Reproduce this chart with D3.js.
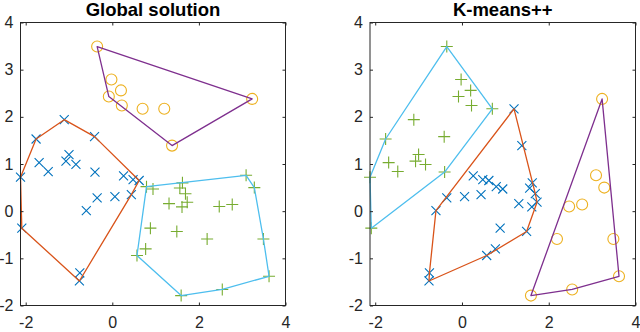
<!DOCTYPE html>
<html>
<head>
<meta charset="utf-8">
<script src="https://cdn.jsdelivr.net/npm/d3@7"></script>
<style>
  body { margin: 0; background: #fff; }
  svg { display: block; }
</style>
</head>
<body>
<svg id="chart" width="640" height="332"></svg>
<script>
// point coordinates (same 50 points in both panels)
const xs = [-0.35, -0.02, 0.20, -0.08, 0.22, 0.70, 1.20, 1.38, 3.23,
  -1.76, -1.11, -0.41, -1.69, -1.00, -1.07, -0.84, -2.12, -1.48, -0.40,
  0.26, 0.48, 0.62, -0.35, 0.06, 0.44, -0.60, -2.09, -0.75, -0.76,
  3.09, 3.28, 0.79, 0.94, 1.62, 1.56, 1.69, 1.31, 1.61, 1.73,
  2.47, 2.77, 0.88, 1.49, 2.19, 3.49, 0.77, 0.57, 3.62, 2.54, 1.59];
const ys = [3.49, 2.79, 2.56, 2.43, 2.24, 2.17, 2.17, 1.39, 2.38,
  1.53, 1.94, 1.58, 1.03, 1.20, 1.06, 0.99, 0.72, 0.84, 0.83,
  0.75, 0.67, 0.65, 0.28, 0.31, 0.35, 0.01, -0.36, -1.31, -1.48,
  0.76, 0.50, 0.52, 0.47, 0.60, 0.49, 0.37, 0.16, 0.09, 0.19,
  0.10, 0.14, -0.36, -0.43, -0.59, -0.59, -0.80, -0.94, -1.38, -1.66, -1.79];

// cluster labels: 0 = x marker, 1 = circle, 2 = plus
const labelsGlobal = [1, 1, 1, 1, 1, 1, 1, 1, 1,
  0, 0, 0, 0, 0, 0, 0, 0, 0, 0,
  0, 0, 0, 0, 0, 0, 0, 0, 0, 0,
  2, 2, 2, 2, 2, 2, 2, 2, 2, 2,
  2, 2, 2, 2, 2, 2, 2, 2, 2, 2, 2];
const labelsKpp = [2, 2, 2, 2, 2, 2, 0, 0, 1,
  2, 2, 2, 2, 2, 2, 2, 2, 2, 2,
  0, 0, 0, 0, 0, 0, 0, 2, 0, 0,
  1, 1, 0, 0, 0, 0, 0, 0, 0, 0,
  1, 1, 0, 0, 1, 1, 0, 0, 1, 1, 1];

const titles = ["Global solution", "K-means++"];
const xTicks = [-2, 0, 2, 4];
const yTicks = [-2, -1, 0, 1, 2, 3, 4];

const markerColors = ["#0072BD", "#EDB120", "#77AC30"];
const hullColors = ["#D95319", "#7E2F8E", "#4DBEEE"];
const markerShapes = ["x", "o", "+"];

const svg = d3.select("#chart");
const font = "'Liberation Sans', Arial, Helvetica, sans-serif";

const panels = [
  { left: 20.5, right: 285.5, labels: labelsGlobal, title: titles[0] },
  { left: 370, right: 635.5, labels: labelsKpp, title: titles[1] }
];
const axTop = 22.5, axBottom = 305.5;

panels.forEach(p => {
  const xScale = d3.scaleLinear().domain([-2.12, 4]).range([p.left, p.right]);
  const yScale = d3.scaleLinear().domain([-2, 4]).range([axBottom, axTop]);
  const g = svg.append("g");

  // markers
  const pts = xs.map((x, i) => ({ x, y: ys[i], c: p.labels[i] }));
  pts.forEach(d => {
    const cx = xScale(d.x), cy = yScale(d.y);
    const col = markerColors[d.c];
    const shape = markerShapes[d.c];
    if (shape === "o") {
      g.append("circle").attr("cx", cx).attr("cy", cy).attr("r", 5.5)
        .attr("fill", "none").attr("stroke", col).attr("stroke-width", 1.1);
    } else if (shape === "x") {
      const s = 4.5;
      g.append("path")
        .attr("d", `M${cx - s},${cy - s}L${cx + s},${cy + s}M${cx - s},${cy + s}L${cx + s},${cy - s}`)
        .attr("stroke", col).attr("stroke-width", 1.1).attr("fill", "none");
    } else {
      const s = 6;
      g.append("path")
        .attr("d", `M${cx - s},${cy}L${cx + s},${cy}M${cx},${cy - s}L${cx},${cy + s}`)
        .attr("stroke", col).attr("stroke-width", 1.1).attr("fill", "none");
    }
  });

  // convex hulls
  [0, 1, 2].forEach(c => {
    const hull = d3.polygonHull(pts.filter(d => d.c === c).map(d => [xScale(d.x), yScale(d.y)]));
    g.append("path")
      .attr("d", "M" + hull.map(q => q.join(",")).join("L") + "Z")
      .attr("fill", "none").attr("stroke", hullColors[c]).attr("stroke-width", 1.3)
      .attr("stroke-linejoin", "round");
  });

  // axes
  const axisColor = "#262626";
  const tl = 3;
  const fmt = d => String(d);
  g.append("g").attr("transform", `translate(0,${axBottom})`)
    .call(d3.axisBottom(xScale).tickValues(xTicks).tickFormat(fmt).tickSizeInner(-tl).tickSizeOuter(0).tickPadding(11))
    .call(a => a.select(".domain").remove());
  g.append("g").attr("transform", `translate(0,${axTop})`)
    .call(d3.axisTop(xScale).tickValues(xTicks).tickSizeInner(-tl).tickSizeOuter(0).tickFormat(""))
    .call(a => a.select(".domain").remove());
  g.append("g").attr("transform", `translate(${p.left},0)`)
    .call(d3.axisLeft(yScale).tickValues(yTicks).tickFormat(fmt).tickSizeInner(-tl).tickSizeOuter(0).tickPadding(7))
    .call(a => a.select(".domain").remove());
  g.append("g").attr("transform", `translate(${p.right},0)`)
    .call(d3.axisRight(yScale).tickValues(yTicks).tickSizeInner(-tl).tickSizeOuter(0).tickFormat(""))
    .call(a => a.select(".domain").remove());

  g.selectAll(".tick line").attr("stroke", axisColor);
  g.selectAll(".tick text")
    .style("font-family", font).style("font-size", "16px").attr("fill", axisColor);

  g.append("rect")
    .attr("x", p.left).attr("y", axTop)
    .attr("width", p.right - p.left).attr("height", axBottom - axTop)
    .attr("fill", "none").attr("stroke", axisColor).attr("stroke-width", 1);

  g.append("text")
    .attr("x", (p.left + p.right) / 2).attr("y", 15.5)
    .attr("text-anchor", "middle")
    .style("font-family", font).style("font-size", "18.5px").style("font-weight", "bold")
    .attr("fill", "#000")
    .text(p.title);
});
</script>
</body>
</html>
